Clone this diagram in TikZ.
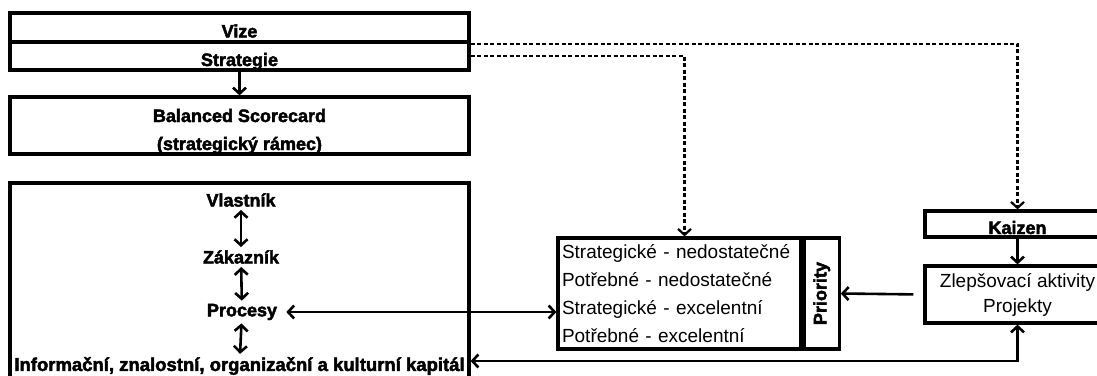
\documentclass[tikz,border=0pt]{standalone}
\usepackage{fontspec}
\setmainfont{Liberation Sans}[BoldFeatures={FakeBold=2.5}]
\usetikzlibrary{arrows.meta}
\usetikzlibrary{calc}
\usetikzlibrary{positioning}

\begin{document}
\begin{tikzpicture}[x=1pt,y=-1pt,>={Straight Barb[length=6pt,width=13pt]},line width=2.6pt]
						\tikzstyle{bar}=[draw, line width=3.2pt, inner sep=0pt, minimum width=459pt, font=\bfseries\fontsize{18}{28}\selectfont, text height=20pt, text depth=0pt]
						\tikzstyle{box}=[draw, line width=3.2pt, minimum width=185pt, align=center, font=\fontsize{19}{25}\selectfont]
						\tikzstyle{persp}=[inner sep=2pt, font=\bfseries\fontsize{18}{20}\selectfont]
						\tikzstyle{link}=[->, line width=2.2pt, dash pattern=on 4pt off 2.5pt]
						\useasboundingbox (0,0) rectangle (1097,375);
						\node[bar, minimum height=29pt] 		(vize) at (239.5,27.5)                    		{Vize};
						\node[bar, minimum height=28pt] 		(strat) at (239.5,56)                    		{Strategie};
						\node[bar, minimum height=57pt, align=center, text height=49pt, text depth=0pt] 		(bsc) at (239.5,125.5)            {Balanced Scorecard\\(strategický rámec)};
						\node[draw, line width=3.2pt, minimum width=459pt, minimum height=197pt] 		(fp) at (239.5,281.5)            {};
						\node[persp] 			(owner) at (241,200)            {Vlastník};
						\node[persp] 			(cust) at (241,257)            {Zákazník};
						\node[persp] 			(proc) at (242,312)            {Procesy};
						\node[persp, font=\bfseries\fontsize{18.5}{20}\selectfont] 			(info) at (239.5,366)            {Informační, znalostní, organizační a kulturní kapitál};
						\node[draw, line width=3.2pt, minimum height=111pt, text width=235pt, inner xsep=4pt, align=left, font=\fontsize{19}{28}\selectfont] 			(list) at (679.5,293.5)            {Strategické - nedostatečné\\Potřebné - nedostatečné\\Strategické - excelentní\\Potřebné - excelentní};
						\node[draw, line width=3.2pt, rotate=90, anchor=north, inner sep=0pt, minimum width=111pt, minimum height=35pt, font=\bfseries\fontsize{18}{20}\selectfont] 			(pcol) at (list.east)            {Priority};
						\node[bar, minimum width=185pt, minimum height=26pt] 			(kaizen) at (1017.5,224)            {Kaizen};
						\node[box, minimum height=57pt] 			(zlep) at (1017.5,294.5)            {Zlepšovací aktivity\\Projekty};
						\coordinate (drop) at ($(list.north)+(5,0)$);
						\coordinate (turn) at (1017.5,361);
 				  \path[->]
					 (strat) edge (bsc)
					 (kaizen) edge (zlep);
 				  \path[<->]
					 (owner) edge (cust)
					 (cust) edge (proc)
					 (proc) edge (info);
				\draw[<->, shorten <=6pt] (proc.east) -- (proc.east -| list.west);
				\draw[->, shorten <=10pt] (zlep.west) -- (pcol.south);
				\draw[<->] (zlep.south) -- (turn) -- (turn -| fp.east);
				\draw[link] (vize.south east) -| (kaizen.north);
				\draw[link] (strat.east) -| (drop);
				\end{tikzpicture}
\end{document}
